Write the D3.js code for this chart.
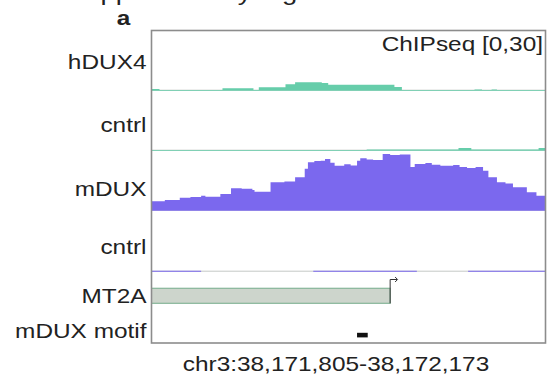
<!DOCTYPE html>
<html>
<head>
<meta charset="utf-8">
<script src="https://cdn.jsdelivr.net/npm/d3@7"></script>
<style>
  html, body { margin: 0; padding: 0; background: #fff; }
  svg { display: block; }
  text { font-family: "Liberation Sans", Arial, Helvetica, sans-serif; fill: #222; }
</style>
</head>
<body>
<svg id="chart" width="547" height="377"></svg>
<script>
// Genomic window shown
const chrom = "chr3";
const regionStart = 38171805;
const regionEnd = 38172173;

// Track names and the ChIP-seq data range
const trackNames = ["hDUX4", "cntrl", "mDUX", "cntrl"];
const dataRange = [0, 30];
const rangeLabel = "ChIPseq [0,30]";

// Coverage as steps: start offsets (bp from regionStart) and values
const hdux4Starts = [0, 7, 66, 95, 100, 125, 134, 159, 165, 227, 234, 302, 309, 318, 323];
const hdux4Values = [0.8, 0.4, 1.2, 0.4, 1.7, 3.2, 4.2, 3.9, 3.0, 1.8, 0.3, 0.6, 0.3, 0.6, 0.3];

const cntrl1Starts = [0, 201, 287, 299, 362];
const cntrl1Values = [0.3, 0.6, 1.3, 0.6, 1.3];

const mduxStarts = [0, 12, 26, 36, 46, 50, 64, 74, 84, 94, 96, 111, 124, 134, 143, 146, 152, 158, 162, 167, 171, 180, 186, 192, 195, 201, 207, 216, 223, 232, 242, 246, 256, 262, 270, 282, 288, 295, 303, 310, 315, 323, 331, 338, 351, 360];
const mduxValues = [4.7, 5.3, 6.5, 6.8, 7.5, 7.0, 8.3, 11.2, 11.0, 10.3, 9.5, 14.2, 14.6, 16.7, 21.0, 24.2, 24.8, 25.0, 25.8, 24.0, 22.5, 23.2, 22.6, 25.0, 26.2, 25.6, 25.3, 28.3, 27.8, 28.1, 21.8, 23.3, 23.8, 23.0, 22.5, 22.8, 21.9, 21.3, 21.8, 20.0, 16.7, 14.2, 13.6, 11.7, 9.2, 7.5];

const cntrl2Starts = [0, 46, 151, 248, 296];
const cntrl2Values = [0.5, 0, 0.5, 0, 0.5];

const trackColors = ["#66cdaa", "#66cdaa", "#7b68ee", "#7b68ee"];

// Gene annotation (extends past the left edge) and motif hit
const geneName = "MT2A";
const geneStart = regionStart - 40;
const geneEnd = regionStart + 223;
const motifName = "mDUX motif";
const motifStart = regionStart + 192;
const motifEnd = regionStart + 202;

const panelLetter = "a";
const pageTitle = "Supplementary Figure";

const svg = d3.select("#chart");
const SX = 1.22; // horizontal stretch of all lettering

const frame = { left: 151.5, right: 545.5, top: 30.5, bottom: 343 };
const trackH = 60;
const trackTops = [30.7, 90.7, 150.7, 211.7];

const x = d3.scaleLinear().domain([regionStart, regionEnd]).range([152, 545]);

function label(txt, px, py, anchor, opts = {}) {
  return svg.append("text")
    .attr("transform", `translate(${px},${py}) scale(${SX},1)`)
    .attr("text-anchor", anchor)
    .attr("font-size", opts.size || 20)
    .attr("font-weight", opts.weight || "normal")
    .text(txt);
}

// clipped plotting area
svg.append("defs").append("clipPath").attr("id", "plotClip")
  .append("rect")
  .attr("x", frame.left).attr("y", frame.top)
  .attr("width", frame.right - frame.left).attr("height", frame.bottom - frame.top);

const plot = svg.append("g").attr("clip-path", "url(#plotClip)");

const series = [
  [hdux4Starts, hdux4Values],
  [cntrl1Starts, cntrl1Values],
  [mduxStarts, mduxValues],
  [cntrl2Starts, cntrl2Values]
];

series.forEach(([starts, vals], i) => {
  const base = trackTops[i] + trackH;
  const y = d3.scaleLinear().domain(dataRange).range([base, base - trackH]);
  // thin grey divider at the base of each track
  plot.append("line")
    .attr("x1", frame.left).attr("x2", frame.right)
    .attr("y1", base - 0.5).attr("y2", base - 0.5)
    .attr("stroke", "#c4c8c6").attr("stroke-width", 1);
  const pts = starts.map((s, k) => ({ pos: regionStart + s, v: vals[k] }));
  pts.push({ pos: regionEnd, v: vals[vals.length - 1] });
  const area = d3.area()
    .x(d => x(d.pos))
    .y0(base)
    .y1(d => y(d.v))
    .curve(d3.curveStepAfter);
  plot.append("path")
    .datum(pts)
    .attr("d", area)
    .attr("fill", trackColors[i]);
});

// gene model
const geneTop = 288.3, geneBot = 303.3;
plot.append("rect")
  .attr("x", x(geneStart)).attr("y", geneTop)
  .attr("width", x(geneEnd) - x(geneStart)).attr("height", geneBot - geneTop)
  .attr("fill", "#cdd5cc").attr("stroke", "#86b598").attr("stroke-width", 1.2);
// transcription start arrow
const tssX = x(geneEnd);
const arrowEnd = x(geneEnd + 6.5);
plot.append("path")
  .attr("d", `M${tssX},${geneBot} V279.5 H${arrowEnd}`)
  .attr("fill", "none").attr("stroke", "#333").attr("stroke-width", 1);
plot.append("path")
  .attr("d", `M${arrowEnd - 2},277 L${arrowEnd + 0.5},279.5 L${arrowEnd - 2},282`)
  .attr("fill", "none").attr("stroke", "#333").attr("stroke-width", 1);

// motif hit
plot.append("rect")
  .attr("x", x(motifStart)).attr("y", 332.8)
  .attr("width", x(motifEnd) - x(motifStart)).attr("height", 4.6)
  .attr("fill", "#111");

// frame
svg.append("rect")
  .attr("x", frame.left).attr("y", frame.top)
  .attr("width", frame.right - frame.left).attr("height", frame.bottom - frame.top)
  .attr("fill", "none").attr("stroke", "#8c8c8c").attr("stroke-width", 1.6);

// track labels
const labelBaselines = [69, 131.5, 195.5, 253.5];
trackNames.forEach((n, i) => label(n, 146.5, labelBaselines[i], "end"));
label(geneName, 146.5, 303, "end");
label(motifName, 146.5, 337.5, "end");

label(rangeLabel, 543, 50.5, "end");
label(`${chrom}:${d3.format(",")(regionStart)}-${d3.format(",")(regionEnd)}`, 336, 371, "middle");

label(panelLetter, 123.5, 24.5, "middle", { weight: "bold" });
label(pageTitle, 67, 0.3, "start", { size: 22.5 });
</script>
</body>
</html>
